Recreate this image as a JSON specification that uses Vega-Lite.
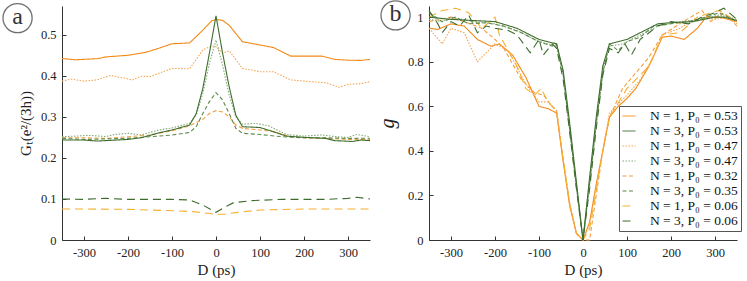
{
  "$schema": "https://vega.github.io/schema/vega-lite/v6.json",
  "background": "white",
  "padding": {"left": 0, "top": -2, "right": 0, "bottom": 0},
  "config": {
    "view": {"stroke": null},
    "axis": {"grid": false, "domainColor": "#333", "tickColor": "#333", "labelColor": "#222", "titleColor": "#222", "labelFont": "Liberation Serif", "titleFont": "Liberation Serif", "labelFontSize": 12.5, "titleFontSize": 15, "titleFontWeight": "normal", "tickSize": -4, "labelPadding": 10, "domainWidth": 1},
    "legend": {"labelFont": "Liberation Serif"},
    "text": {"font": "Liberation Serif"}
  },
  "datasets": {
    "a": [
      {"s":1,"D":-350,"v":0.442},{"s":1,"D":-320,"v":0.439},{"s":1,"D":-270,"v":0.4416},{"s":1,"D":-250,"v":0.446},{"s":1,"D":-200,"v":0.45},{"s":1,"D":-160,"v":0.457},{"s":1,"D":-130,"v":0.467},{"s":1,"D":-100,"v":0.478},{"s":1,"D":-60,"v":0.48},{"s":1,"D":-30,"v":0.511},{"s":1,"D":-10,"v":0.534},{"s":1,"D":0,"v":0.537},{"s":1,"D":15,"v":0.535},{"s":1,"D":30,"v":0.523},{"s":1,"D":60,"v":0.483},{"s":1,"D":100,"v":0.475},{"s":1,"D":130,"v":0.469},{"s":1,"D":170,"v":0.448},{"s":1,"D":240,"v":0.448},{"s":1,"D":270,"v":0.44},{"s":1,"D":300,"v":0.438},{"s":1,"D":330,"v":0.4375},{"s":1,"D":350,"v":0.44},
      {"s":3,"D":-350,"v":0.387},{"s":3,"D":-330,"v":0.392},{"s":3,"D":-300,"v":0.387},{"s":3,"D":-270,"v":0.39},{"s":3,"D":-240,"v":0.401},{"s":3,"D":-190,"v":0.39},{"s":3,"D":-170,"v":0.399},{"s":3,"D":-150,"v":0.398},{"s":3,"D":-100,"v":0.418},{"s":3,"D":-60,"v":0.417},{"s":3,"D":-30,"v":0.463},{"s":3,"D":-10,"v":0.473},{"s":3,"D":0,"v":0.471},{"s":3,"D":15,"v":0.455},{"s":3,"D":30,"v":0.461},{"s":3,"D":60,"v":0.418},{"s":3,"D":100,"v":0.41},{"s":3,"D":130,"v":0.41},{"s":3,"D":170,"v":0.39},{"s":3,"D":200,"v":0.387},{"s":3,"D":250,"v":0.383},{"s":3,"D":280,"v":0.372},{"s":3,"D":300,"v":0.379},{"s":3,"D":330,"v":0.381},{"s":3,"D":350,"v":0.386},
      {"s":5,"D":-350,"v":0.249},{"s":5,"D":-300,"v":0.249},{"s":5,"D":-250,"v":0.2475},{"s":5,"D":-200,"v":0.2516},{"s":5,"D":-150,"v":0.2557},{"s":5,"D":-100,"v":0.266},{"s":5,"D":-60,"v":0.278},{"s":5,"D":-30,"v":0.294},{"s":5,"D":-15,"v":0.308},{"s":5,"D":0,"v":0.315},{"s":5,"D":15,"v":0.312},{"s":5,"D":30,"v":0.3},{"s":5,"D":45,"v":0.28},{"s":5,"D":60,"v":0.272},{"s":5,"D":100,"v":0.268},{"s":5,"D":130,"v":0.264},{"s":5,"D":170,"v":0.2516},{"s":5,"D":200,"v":0.249},{"s":5,"D":250,"v":0.2475},{"s":5,"D":300,"v":0.245},{"s":5,"D":350,"v":0.245},
      {"s":7,"D":-350,"v":0.0755},{"s":7,"D":-300,"v":0.0755},{"s":7,"D":-200,"v":0.0747},{"s":7,"D":-100,"v":0.0714},{"s":7,"D":-50,"v":0.069},{"s":7,"D":-20,"v":0.065},{"s":7,"D":0,"v":0.0625},{"s":7,"D":20,"v":0.063},{"s":7,"D":50,"v":0.0674},{"s":7,"D":100,"v":0.073},{"s":7,"D":200,"v":0.0755},{"s":7,"D":300,"v":0.0755},{"s":7,"D":350,"v":0.0755},
      {"s":4,"D":-350,"v":0.2516},{"s":4,"D":-320,"v":0.253},{"s":4,"D":-290,"v":0.255},{"s":4,"D":-250,"v":0.252},{"s":4,"D":-230,"v":0.257},{"s":4,"D":-200,"v":0.26},{"s":4,"D":-170,"v":0.256},{"s":4,"D":-130,"v":0.268},{"s":4,"D":-100,"v":0.273},{"s":4,"D":-60,"v":0.284},{"s":4,"D":-45,"v":0.304},{"s":4,"D":-30,"v":0.357},{"s":4,"D":-15,"v":0.43},{"s":4,"D":0,"v":0.487},{"s":4,"D":15,"v":0.426},{"s":4,"D":30,"v":0.353},{"s":4,"D":45,"v":0.3},{"s":4,"D":60,"v":0.282},{"s":4,"D":90,"v":0.284},{"s":4,"D":120,"v":0.278},{"s":4,"D":160,"v":0.257},{"s":4,"D":200,"v":0.253},{"s":4,"D":240,"v":0.256},{"s":4,"D":270,"v":0.252},{"s":4,"D":300,"v":0.25},{"s":4,"D":320,"v":0.257},{"s":4,"D":350,"v":0.2516},
      {"s":6,"D":-350,"v":0.2475},{"s":6,"D":-300,"v":0.245},{"s":6,"D":-200,"v":0.2475},{"s":6,"D":-150,"v":0.2516},{"s":6,"D":-100,"v":0.2557},{"s":6,"D":-60,"v":0.262},{"s":6,"D":-45,"v":0.276},{"s":6,"D":-30,"v":0.308},{"s":6,"D":-15,"v":0.337},{"s":6,"D":0,"v":0.359},{"s":6,"D":15,"v":0.341},{"s":6,"D":30,"v":0.308},{"s":6,"D":45,"v":0.272},{"s":6,"D":60,"v":0.26},{"s":6,"D":100,"v":0.257},{"s":6,"D":150,"v":0.2516},{"s":6,"D":200,"v":0.249},{"s":6,"D":250,"v":0.249},{"s":6,"D":300,"v":0.2475},{"s":6,"D":350,"v":0.248},
      {"s":8,"D":-350,"v":0.0998},{"s":8,"D":-300,"v":0.099},{"s":8,"D":-250,"v":0.1015},{"s":8,"D":-200,"v":0.099},{"s":8,"D":-100,"v":0.099},{"s":8,"D":-60,"v":0.0974},{"s":8,"D":-30,"v":0.0852},{"s":8,"D":-10,"v":0.073},{"s":8,"D":0,"v":0.0674},{"s":8,"D":15,"v":0.077},{"s":8,"D":40,"v":0.091},{"s":8,"D":80,"v":0.0958},{"s":8,"D":150,"v":0.099},{"s":8,"D":250,"v":0.099},{"s":8,"D":300,"v":0.1015},{"s":8,"D":320,"v":0.104},{"s":8,"D":350,"v":0.0998},
      {"s":2,"D":-350,"v":0.2435},{"s":2,"D":-300,"v":0.2435},{"s":2,"D":-270,"v":0.241},{"s":2,"D":-200,"v":0.245},{"s":2,"D":-170,"v":0.249},{"s":2,"D":-130,"v":0.261},{"s":2,"D":-100,"v":0.268},{"s":2,"D":-60,"v":0.28},{"s":2,"D":-45,"v":0.308},{"s":2,"D":-30,"v":0.369},{"s":2,"D":-15,"v":0.455},{"s":2,"D":0,"v":0.546},{"s":2,"D":15,"v":0.455},{"s":2,"D":30,"v":0.373},{"s":2,"D":45,"v":0.304},{"s":2,"D":60,"v":0.276},{"s":2,"D":100,"v":0.274},{"s":2,"D":130,"v":0.264},{"s":2,"D":160,"v":0.253},{"s":2,"D":200,"v":0.25},{"s":2,"D":250,"v":0.2475},{"s":2,"D":270,"v":0.242},{"s":2,"D":310,"v":0.24},{"s":2,"D":330,"v":0.2435},{"s":2,"D":350,"v":0.242}
    ],
    "b": [
      {"s":1,"D":-350,"v":0.95},{"s":1,"D":-330,"v":0.945},{"s":1,"D":-300,"v":0.97},{"s":1,"D":-270,"v":0.96},{"s":1,"D":-240,"v":0.9},{"s":1,"D":-210,"v":0.87},{"s":1,"D":-190,"v":0.88},{"s":1,"D":-160,"v":0.83},{"s":1,"D":-130,"v":0.73},{"s":1,"D":-100,"v":0.6},{"s":1,"D":-80,"v":0.59},{"s":1,"D":-60,"v":0.57},{"s":1,"D":-45,"v":0.35},{"s":1,"D":-30,"v":0.15},{"s":1,"D":-15,"v":0.03},{"s":1,"D":0,"v":0},{"s":1,"D":15,"v":0.08},{"s":1,"D":30,"v":0.25},{"s":1,"D":45,"v":0.4},{"s":1,"D":60,"v":0.55},{"s":1,"D":80,"v":0.6},{"s":1,"D":100,"v":0.635},{"s":1,"D":120,"v":0.68},{"s":1,"D":150,"v":0.78},{"s":1,"D":180,"v":0.91},{"s":1,"D":200,"v":0.915},{"s":1,"D":230,"v":0.9},{"s":1,"D":260,"v":0.95},{"s":1,"D":280,"v":1.0},{"s":1,"D":310,"v":1.0},{"s":1,"D":350,"v":0.98},
      {"s":3,"D":-350,"v":0.95},{"s":3,"D":-320,"v":0.88},{"s":3,"D":-300,"v":0.95},{"s":3,"D":-270,"v":0.93},{"s":3,"D":-240,"v":0.8},{"s":3,"D":-200,"v":0.88},{"s":3,"D":-170,"v":0.85},{"s":3,"D":-130,"v":0.7},{"s":3,"D":-100,"v":0.62},{"s":3,"D":-80,"v":0.62},{"s":3,"D":-60,"v":0.58},{"s":3,"D":-45,"v":0.36},{"s":3,"D":-30,"v":0.16},{"s":3,"D":-15,"v":0.03},{"s":3,"D":0,"v":0},{"s":3,"D":15,"v":0.07},{"s":3,"D":30,"v":0.24},{"s":3,"D":45,"v":0.4},{"s":3,"D":60,"v":0.57},{"s":3,"D":100,"v":0.65},{"s":3,"D":130,"v":0.72},{"s":3,"D":160,"v":0.82},{"s":3,"D":180,"v":0.92},{"s":3,"D":220,"v":0.95},{"s":3,"D":260,"v":1.0},{"s":3,"D":300,"v":0.99},{"s":3,"D":330,"v":1.0},{"s":3,"D":350,"v":0.97},
      {"s":5,"D":-350,"v":0.98},{"s":5,"D":-300,"v":1.0},{"s":5,"D":-270,"v":0.98},{"s":5,"D":-230,"v":0.95},{"s":5,"D":-200,"v":0.9},{"s":5,"D":-180,"v":0.86},{"s":5,"D":-140,"v":0.72},{"s":5,"D":-110,"v":0.66},{"s":5,"D":-90,"v":0.65},{"s":5,"D":-70,"v":0.6},{"s":5,"D":-60,"v":0.58},{"s":5,"D":-45,"v":0.36},{"s":5,"D":-30,"v":0.16},{"s":5,"D":-15,"v":0.03},{"s":5,"D":0,"v":0},{"s":5,"D":15,"v":0},{"s":5,"D":30,"v":0.2},{"s":5,"D":45,"v":0.4},{"s":5,"D":60,"v":0.55},{"s":5,"D":90,"v":0.68},{"s":5,"D":120,"v":0.75},{"s":5,"D":150,"v":0.82},{"s":5,"D":180,"v":0.92},{"s":5,"D":220,"v":0.97},{"s":5,"D":270,"v":1.03},{"s":5,"D":290,"v":0.98},{"s":5,"D":320,"v":1.02},{"s":5,"D":350,"v":0.96},
      {"s":7,"D":-350,"v":1.0},{"s":7,"D":-320,"v":1.03},{"s":7,"D":-290,"v":1.04},{"s":7,"D":-260,"v":1.02},{"s":7,"D":-230,"v":0.95},{"s":7,"D":-200,"v":1.0},{"s":7,"D":-190,"v":0.92},{"s":7,"D":-170,"v":0.85},{"s":7,"D":-150,"v":0.78},{"s":7,"D":-130,"v":0.68},{"s":7,"D":-110,"v":0.65},{"s":7,"D":-95,"v":0.68},{"s":7,"D":-80,"v":0.62},{"s":7,"D":-60,"v":0.58},{"s":7,"D":-45,"v":0.36},{"s":7,"D":-30,"v":0.16},{"s":7,"D":-15,"v":0.03},{"s":7,"D":0,"v":0},{"s":7,"D":15,"v":0.05},{"s":7,"D":30,"v":0.22},{"s":7,"D":45,"v":0.4},{"s":7,"D":60,"v":0.55},{"s":7,"D":100,"v":0.68},{"s":7,"D":150,"v":0.78},{"s":7,"D":180,"v":0.92},{"s":7,"D":220,"v":0.93},{"s":7,"D":260,"v":1.0},{"s":7,"D":290,"v":1.02},{"s":7,"D":310,"v":1.03},{"s":7,"D":350,"v":0.98},
      {"s":4,"D":-350,"v":0.99},{"s":4,"D":-320,"v":0.98},{"s":4,"D":-300,"v":1.0},{"s":4,"D":-250,"v":0.98},{"s":4,"D":-200,"v":0.97},{"s":4,"D":-150,"v":0.94},{"s":4,"D":-100,"v":0.89},{"s":4,"D":-60,"v":0.87},{"s":4,"D":-45,"v":0.75},{"s":4,"D":-30,"v":0.5},{"s":4,"D":-15,"v":0.25},{"s":4,"D":0,"v":0},{"s":4,"D":15,"v":0.27},{"s":4,"D":30,"v":0.53},{"s":4,"D":45,"v":0.76},{"s":4,"D":60,"v":0.87},{"s":4,"D":90,"v":0.88},{"s":4,"D":120,"v":0.91},{"s":4,"D":170,"v":0.96},{"s":4,"D":220,"v":0.98},{"s":4,"D":270,"v":0.99},{"s":4,"D":310,"v":1.01},{"s":4,"D":350,"v":0.99},
      {"s":6,"D":-350,"v":1.02},{"s":6,"D":-320,"v":0.98},{"s":6,"D":-290,"v":1.0},{"s":6,"D":-260,"v":0.97},{"s":6,"D":-220,"v":0.975},{"s":6,"D":-180,"v":0.96},{"s":6,"D":-140,"v":0.93},{"s":6,"D":-100,"v":0.89},{"s":6,"D":-70,"v":0.87},{"s":6,"D":-60,"v":0.88},{"s":6,"D":-45,"v":0.74},{"s":6,"D":-30,"v":0.49},{"s":6,"D":-15,"v":0.24},{"s":6,"D":0,"v":0},{"s":6,"D":15,"v":0.25},{"s":6,"D":30,"v":0.52},{"s":6,"D":45,"v":0.75},{"s":6,"D":60,"v":0.88},{"s":6,"D":80,"v":0.85},{"s":6,"D":100,"v":0.89},{"s":6,"D":130,"v":0.91},{"s":6,"D":160,"v":0.96},{"s":6,"D":200,"v":0.97},{"s":6,"D":240,"v":0.98},{"s":6,"D":280,"v":1.0},{"s":6,"D":310,"v":1.02},{"s":6,"D":350,"v":0.98},
      {"s":8,"D":-350,"v":1.03},{"s":8,"D":-330,"v":0.97},{"s":8,"D":-320,"v":0.93},{"s":8,"D":-300,"v":0.98},{"s":8,"D":-280,"v":0.96},{"s":8,"D":-260,"v":1.01},{"s":8,"D":-240,"v":0.93},{"s":8,"D":-220,"v":0.96},{"s":8,"D":-200,"v":0.95},{"s":8,"D":-170,"v":0.94},{"s":8,"D":-150,"v":0.92},{"s":8,"D":-120,"v":0.84},{"s":8,"D":-100,"v":0.9},{"s":8,"D":-90,"v":0.83},{"s":8,"D":-70,"v":0.88},{"s":8,"D":-60,"v":0.86},{"s":8,"D":-45,"v":0.72},{"s":8,"D":-30,"v":0.48},{"s":8,"D":-15,"v":0.23},{"s":8,"D":0,"v":0},{"s":8,"D":15,"v":0.23},{"s":8,"D":30,"v":0.5},{"s":8,"D":45,"v":0.74},{"s":8,"D":60,"v":0.86},{"s":8,"D":80,"v":0.84},{"s":8,"D":95,"v":0.88},{"s":8,"D":110,"v":0.83},{"s":8,"D":130,"v":0.9},{"s":8,"D":150,"v":0.93},{"s":8,"D":170,"v":0.96},{"s":8,"D":200,"v":0.98},{"s":8,"D":240,"v":0.97},{"s":8,"D":270,"v":1.0},{"s":8,"D":300,"v":1.02},{"s":8,"D":320,"v":1.04},{"s":8,"D":350,"v":0.99},
      {"s":2,"D":-350,"v":1.0},{"s":2,"D":-300,"v":0.99},{"s":2,"D":-250,"v":0.985},{"s":2,"D":-200,"v":0.98},{"s":2,"D":-150,"v":0.95},{"s":2,"D":-100,"v":0.9},{"s":2,"D":-80,"v":0.89},{"s":2,"D":-60,"v":0.88},{"s":2,"D":-45,"v":0.76},{"s":2,"D":-30,"v":0.52},{"s":2,"D":-15,"v":0.26},{"s":2,"D":0,"v":0},{"s":2,"D":15,"v":0.28},{"s":2,"D":30,"v":0.55},{"s":2,"D":45,"v":0.78},{"s":2,"D":60,"v":0.88},{"s":2,"D":100,"v":0.9},{"s":2,"D":150,"v":0.95},{"s":2,"D":170,"v":0.97},{"s":2,"D":200,"v":0.975},{"s":2,"D":250,"v":0.98},{"s":2,"D":300,"v":1.0},{"s":2,"D":320,"v":1.0},{"s":2,"D":350,"v":0.985}
    ],
    "labA": [{"D": -451, "v": 0.5405, "t": "a"}],
    "labB": [{"D": -426, "v": 1.008, "t": "b"}]
  },
  "spacing": 4,
  "resolve": {"scale": {"x": "independent", "y": "independent", "color": "independent", "strokeDash": "independent"}},
  "hconcat": [
    {
      "width": 308, "height": 234,
      "layer": [
        {
          "data": {"name": "a"},
          "mark": {"type": "line", "strokeWidth": 1.1},
          "encoding": {
            "x": {"field": "D", "type": "quantitative", "scale": {"domain": [-350, 350], "nice": false}, "axis": {"values": [-300, -200, -100, 0, 100, 200, 300], "labelExpr": "'' + datum.value", "title": "D (ps)"}},
            "y": {"field": "v", "type": "quantitative", "scale": {"domain": [0, 0.57], "nice": false}, "axis": {"values": [0, 0.1, 0.2, 0.3, 0.4, 0.5], "labelExpr": "'' + datum.value", "title": "Gₜ(e²/(3h))", "titlePadding": 7}},
            "color": {"field": "s", "type": "nominal", "scale": {"domain": [1,2,3,4,5,6,7,8], "range": ["#F28A16", "#3F6E2E", "#F5A550", "#86A878", "#F59C3C", "#5C8A4A", "#F5B02E", "#3C6B2C"]}, "legend": null},
            "strokeDash": {"field": "s", "type": "nominal", "scale": {"domain": [1,2,3,4,5,6,7,8], "range": [[1,0],[1,0],[1.5,1.5],[1.5,1.5],[4,2.5],[4,2.5],[8,5],[8,5]]}, "legend": null},
            "detail": {"field": "s"}
          }
        },
        {
          "data": {"name": "labA"},
          "mark": {"type": "point", "shape": "circle", "filled": false, "size": 850, "stroke": "#333", "strokeWidth": 1.3},
          "encoding": {"x": {"field": "D", "type": "quantitative"}, "y": {"field": "v", "type": "quantitative"}}
        },
        {
          "data": {"name": "labA"},
          "mark": {"type": "text", "font": "Liberation Serif", "fontSize": 24, "color": "#333", "baseline": "middle", "dy": -1},
          "encoding": {"x": {"field": "D", "type": "quantitative"}, "y": {"field": "v", "type": "quantitative"}, "text": {"field": "t"}}
        }
      ]
    },
    {
      "width": 308, "height": 234,
      "layer": [
        {
          "data": {"name": "b"},
          "mark": {"type": "line", "strokeWidth": 1.1},
          "encoding": {
            "x": {"field": "D", "type": "quantitative", "scale": {"domain": [-350, 350], "nice": false}, "axis": {"values": [-300, -200, -100, 0, 100, 200, 300], "labelExpr": "'' + datum.value", "title": "D (ps)"}},
            "y": {"field": "v", "type": "quantitative", "scale": {"domain": [0, 1.05], "nice": false}, "axis": {"values": [0, 0.2, 0.4, 0.6, 0.8, 1], "labelExpr": "'' + datum.value", "title": "g", "titleFontStyle": "italic", "titleFontSize": 20, "titlePadding": 10}},
            "color": {"field": "s", "type": "nominal", "scale": {"domain": [1,2,3,4,5,6,7,8], "range": ["#F28A16", "#3F6E2E", "#F5A550", "#86A878", "#F59C3C", "#5C8A4A", "#F5B02E", "#3C6B2C"]},
              "legend": {"orient": "none", "legendX": 190, "legendY": 100, "title": null, "symbolType": "stroke", "symbolSize": 169, "symbolStrokeWidth": 1, "labelFont": "Liberation Serif", "labelFontSize": 13.5, "labelColor": "#111", "strokeColor": "#555", "fillColor": "white", "padding": 3, "rowPadding": 1, "labelOffset": 14,
                "labelExpr": "['', 'N = 1, P₀ = 0.53', 'N = 3, P₀ = 0.53', 'N = 1, P₀ = 0.47', 'N = 3, P₀ = 0.47', 'N = 1, P₀ = 0.32', 'N = 3, P₀ = 0.35', 'N = 1, P₀ = 0.06', 'N = 3, P₀ = 0.06'][datum.value]"}},
            "strokeDash": {"field": "s", "type": "nominal", "scale": {"domain": [1,2,3,4,5,6,7,8], "range": [[1,0],[1,0],[1.5,1.5],[1.5,1.5],[4,2.5],[4,2.5],[8,5],[8,5]]},
              "legend": {"orient": "none", "legendX": 190, "legendY": 100, "title": null, "symbolType": "stroke", "symbolSize": 169, "symbolStrokeWidth": 1, "labelFont": "Liberation Serif", "labelFontSize": 13.5, "labelColor": "#111", "strokeColor": "#555", "fillColor": "white", "padding": 3, "rowPadding": 1, "labelOffset": 14,
                "labelExpr": "['', 'N = 1, P₀ = 0.53', 'N = 3, P₀ = 0.53', 'N = 1, P₀ = 0.47', 'N = 3, P₀ = 0.47', 'N = 1, P₀ = 0.32', 'N = 3, P₀ = 0.35', 'N = 1, P₀ = 0.06', 'N = 3, P₀ = 0.06'][datum.value]"}}
          }
        },
        {
          "data": {"name": "labB"},
          "mark": {"type": "point", "shape": "circle", "filled": false, "size": 850, "stroke": "#333", "strokeWidth": 1.3},
          "encoding": {"x": {"field": "D", "type": "quantitative"}, "y": {"field": "v", "type": "quantitative"}}
        },
        {
          "data": {"name": "labB"},
          "mark": {"type": "text", "font": "Liberation Serif", "fontSize": 24, "color": "#333", "baseline": "middle", "dy": -1},
          "encoding": {"x": {"field": "D", "type": "quantitative"}, "y": {"field": "v", "type": "quantitative"}, "text": {"field": "t"}}
        }
      ]
    }
  ]
}
